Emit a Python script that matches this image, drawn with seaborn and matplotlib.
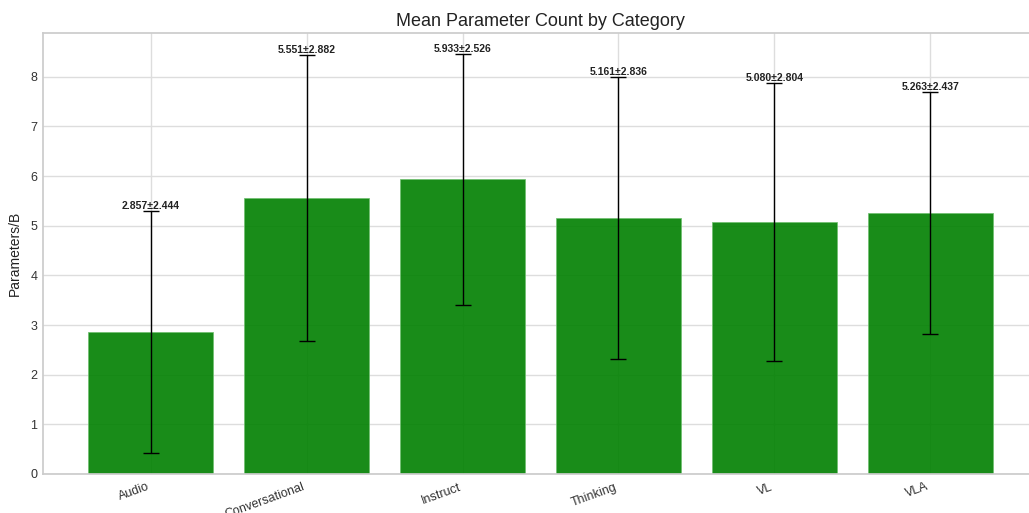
import matplotlib
matplotlib.use("Agg")
import matplotlib.pyplot as plt
import seaborn as sns
import numpy as np

categories = ["Audio", "Conversational", "Instruct", "Thinking", "VL", "VLA"]
mean_params = [2.857, 5.551, 5.933, 5.161, 5.080, 5.263]
std_params = [2.444, 2.882, 2.526, 2.836, 2.804, 2.437]

sns.set_theme(style="whitegrid")
plt.rcParams["font.family"] = ["Liberation Sans", "DejaVu Sans"]

fig = plt.figure(figsize=(10.29, 5.13), dpi=100)
ax = fig.add_axes([43 / 1029, 39 / 513, (1038 - 43) / 1029, (474 - 33) / 513])

sns.barplot(x=categories, y=mean_params, color="green", alpha=0.9,
            width=0.8, ax=ax, saturation=1, edgecolor="#6fbf6f", linewidth=0.6)
ax.errorbar(np.arange(len(categories)), mean_params, yerr=std_params,
            fmt="none", ecolor="black", elinewidth=1, capsize=6, capthick=1)

for i, (m, s) in enumerate(zip(mean_params, std_params)):
    ax.text(i, m + s, f"{m:.3f}±{s:.3f}", ha="center", va="bottom",
            fontsize=7.5, fontweight="bold", color="#222222")

n = len(categories)
pad = 0.05 * (n - 0.2)
ax.set_xlim(-0.4 - pad, n - 1 + 0.4 + pad)
ax.set_ylim(0, (max(np.add(mean_params, std_params))) * 1.05)
ax.grid(True, axis="both", color="#dddddd", linewidth=1)
ax.set_axisbelow(True)

ax.set_title("Mean Parameter Count by Category", fontsize=13, color="#222222", pad=5)
ax.set_ylabel("Parameters/B", fontsize=10, color="#222222", labelpad=6)
ax.set_xlabel("")
ax.tick_params(axis="both", labelsize=9, colors="#333333", length=0)
ax.tick_params(axis="y", pad=4)
ax.tick_params(axis="x", pad=5)
plt.setp(ax.get_xticklabels(), rotation=20, ha="right")
for sp in ax.spines.values():
    sp.set_color("#cccccc")

fig.savefig("out.png", dpi=100)
